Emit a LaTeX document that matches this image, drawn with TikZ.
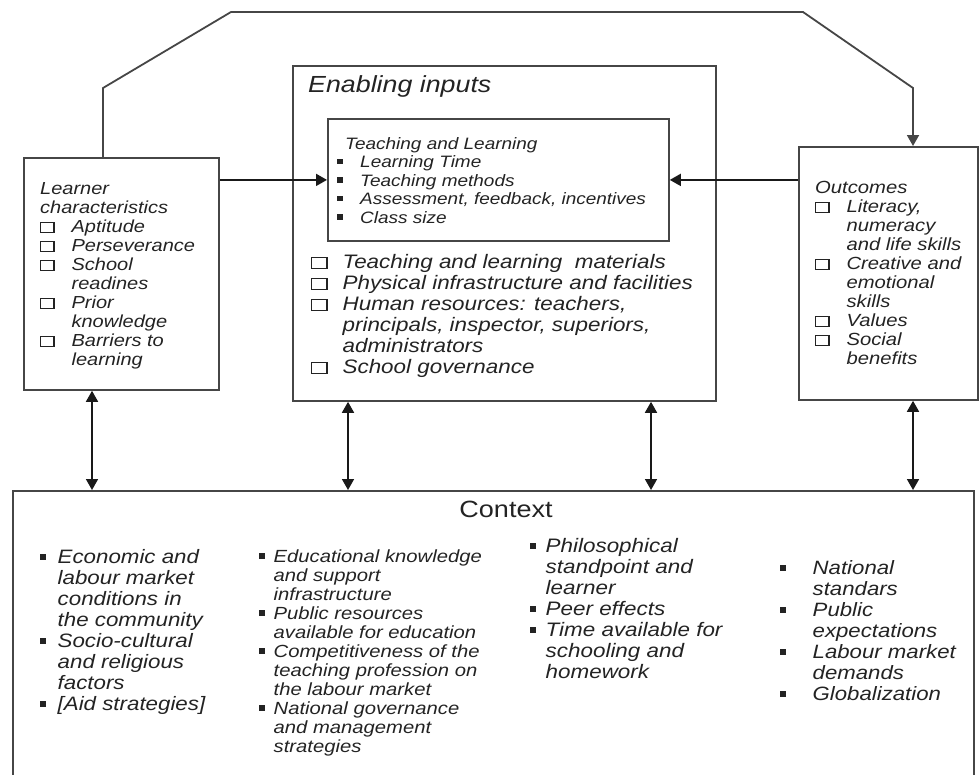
\documentclass[tikz,border=0pt]{standalone}
\usepackage{fontspec}
\setmainfont{Liberation Sans}[FakeStretch=1.15]
\usetikzlibrary{arrows.meta,calc}
\definecolor{linegray}{RGB}{70,70,70}
\definecolor{arrowgray}{RGB}{25,25,25}
\definecolor{textgray}{RGB}{35,35,35}
%% hollow check box and small square bullet
\newcommand\chk[2]{{\setlength\fboxsep{0pt}\setlength\fboxrule{1.2pt}\fbox{\rule{0pt}{#2}\rule{#1}{0pt}}}}
\newcommand\blt{\rule[3.2pt]{6pt}{5.5pt}}
\newcommand\whole[1]{\multicolumn{2}{@{}l@{}}{#1}}

\begin{document}
\begin{tikzpicture}[x=1pt,y=-1pt,
    frame/.style={draw=linegray, line width=1.8pt, inner sep=0pt, anchor=north west},
    conn/.style={draw=arrowgray, line width=1.7pt},
    arr/.style={-{Triangle[length=11pt,width=12pt]}},
    dbl/.style={{Triangle[length=11pt,width=12pt]}-{Triangle[length=11pt,width=12pt]}},
    blocktext/.style 2 args={inner sep=0pt, anchor=base west, text=textgray,
      font={\fontsize{#1}{#2}\selectfont\itshape}}
  ]
  \useasboundingbox (0,0) rectangle (979,774);

  %% boxes
  \node[frame, minimum width=195pt, minimum height=232pt] (learner) at (23,157) {};
  \node[frame, minimum width=423pt, minimum height=335pt] (enabling) at (292,65) {};
  \node[frame, minimum width=341pt, minimum height=122pt] (teachlearn) at (327,118) {};
  \node[frame, minimum width=179pt, minimum height=253pt] (outcomes) at (798,146) {};
  \node[frame, minimum width=961pt, minimum height=320pt] (context) at (12,490) {};

  %% learner
  \node[blocktext={17.4}{19}] (learner-txt) at (40,194) {%
    \begin{tabular}[t]{@{}l@{\hspace{17pt}}l@{}}
      \whole{Learner}\\
      \whole{characteristics}\\
      \chk{12pt}{9pt} & Aptitude\\
      \chk{12pt}{9pt} & Perseverance\\
      \chk{12pt}{9pt} & School\\
                      & readines\\
      \chk{12pt}{9pt} & Prior\\
                      & knowledge\\
      \chk{12pt}{9pt} & Barriers to\\
                      & learning
    \end{tabular}};

  %% enabling inputs
  \node[blocktext={23.3}{26}] (enabling-title) at (308,92) {Enabling inputs};

  \node[blocktext={16.5}{18.5}] (teachlearn-txt) at (337,149) {%
    \begin{tabular}[t]{@{}l@{\hspace{17pt}}l@{}}
      \multicolumn{2}{@{\hspace{8pt}}l@{}}{Teaching and Learning}\\
      \blt & Learning Time\\
      \blt & Teaching methods\\
      \blt & Assessment, feedback, incentives\\
      \blt & Class size
    \end{tabular}};

  \node[blocktext={19.5}{21}] (enabling-txt) at (311,268) {%
    \begin{tabular}[t]{@{}l@{\hspace{15pt}}l@{}}
      \chk{14pt}{10pt} & Teaching and learning\ \ materials\\
      \chk{14pt}{10pt} & Physical infrastructure and facilities\\
      \chk{14pt}{10pt} & Human resources: teachers,\\
                       & principals, inspector, superiors,\\
                       & administrators\\
      \chk{14pt}{10pt} & School governance
    \end{tabular}};

  %% outcomes
  \node[blocktext={17.6}{19}] (outcomes-txt) at (815,193) {%
    \begin{tabular}[t]{@{}l@{\hspace{17pt}}l@{}}
      \whole{Outcomes}\\
      \chk{12pt}{9pt} & Literacy,\\
                      & numeracy\\
                      & and life skills\\
      \chk{12pt}{9pt} & Creative and\\
                      & emotional\\
                      & skills\\
      \chk{12pt}{9pt} & Values\\
      \chk{12pt}{9pt} & Social\\
                      & benefits
    \end{tabular}};

  %% context
  \node[blocktext={23.5}{26}, anchor=base, font={\fontsize{23.5}{26}\selectfont}] (context-title) at (506,517) {Context};

  \node[blocktext={19.4}{21}] (ctx-econ) at (40,563) {%
    \begin{tabular}[t]{@{}l@{\hspace{11.5pt}}l@{}}
      \blt & Economic and\\
           & labour market\\
           & conditions in\\
           & the community\\
      \blt & Socio-cultural\\
           & and religious\\
           & factors\\
      \blt & [Aid strategies]
    \end{tabular}};

  \node[blocktext={17.6}{19}] (ctx-edu) at (259,562) {%
    \begin{tabular}[t]{@{}l@{\hspace{8.5pt}}l@{}}
      \blt & Educational knowledge\\
           & and support\\
           & infrastructure\\
      \blt & Public resources\\
           & available for education\\
      \blt & Competitiveness of the\\
           & teaching profession on\\
           & the labour market\\
      \blt & National governance\\
           & and management\\
           & strategies
    \end{tabular}};

  \node[blocktext={19.5}{21}] (ctx-phil) at (530,552) {%
    \begin{tabular}[t]{@{}l@{\hspace{9.5pt}}l@{}}
      \blt & Philosophical\\
           & standpoint and\\
           & learner\\
      \blt & Peer effects\\
      \blt & Time available for\\
           & schooling and\\
           & homework
    \end{tabular}};

  \node[blocktext={19.3}{21}] (ctx-nat) at (780,574) {%
    \begin{tabular}[t]{@{}l@{\hspace{26.5pt}}l@{}}
      \blt & National\\
           & standars\\
      \blt & Public\\
           & expectations\\
      \blt & Labour market\\
           & demands\\
      \blt & Globalization
    \end{tabular}};

  %% feedback loop over the top
  \coordinate (loop-a) at (103,88);
  \coordinate (loop-b) at (231,12);
  \coordinate (loop-c) at (803,12);
  \coordinate (loop-d) at (913,88);
  \draw[frame, arr] (learner.north -| loop-a) -- (loop-a) -- (loop-b) -- (loop-c) -- (loop-d) -- (outcomes.north -| loop-d);

  %% into teaching and learning
  \draw[conn, arr] (learner.east |- teachlearn.west) -- (teachlearn.west);
  \draw[conn, arr] (outcomes.west |- teachlearn.east) -- (teachlearn.east);

  %% links to context
  \foreach \nd/\xx in {learner/92, enabling/348, enabling/651, outcomes/913}
    \draw[conn, dbl] (\nd.south -| \xx,0) -- (context.north -| \xx,0);

\end{tikzpicture}
\end{document}
